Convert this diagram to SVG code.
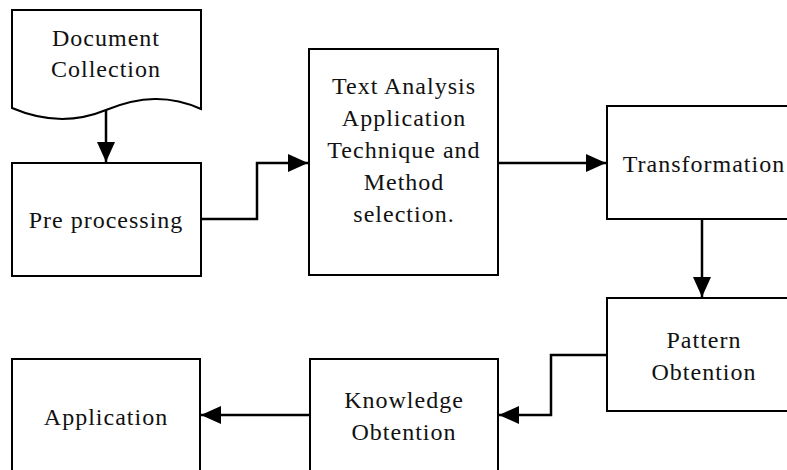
<svg xmlns="http://www.w3.org/2000/svg" width="787" height="470" viewBox="0 0 787 470">
<style>
.box{fill:#fff;stroke:#000;stroke-width:2}
.lbl{font-family:"Liberation Serif","Times New Roman",serif;font-size:24px;letter-spacing:1px;text-anchor:middle;fill:#111}
.conn{fill:none;stroke:#000;stroke-width:2.5}
</style>
<defs>
<marker id="arr" markerUnits="userSpaceOnUse" markerWidth="20" markerHeight="18" refX="20" refY="9" orient="auto">
<path d="M0,0 L20,9 L0,18 Z" fill="#000"/>
</marker>
</defs>
<rect width="787" height="470" fill="#fff"/>
<g id="connectors">
<path class="conn" d="M106,110 V162" marker-end="url(#arr)"/>
<path class="conn" d="M201,219 H257 V163 H308" marker-end="url(#arr)"/>
<path class="conn" d="M498,163 H606" marker-end="url(#arr)"/>
<path class="conn" d="M702,219 V297" marker-end="url(#arr)"/>
<path class="conn" d="M607,355 H551 V415 H499" marker-end="url(#arr)"/>
<path class="conn" d="M310,415 H201" marker-end="url(#arr)"/>
</g>
<g id="doc">
<path class="box" d="M12,10 H201 V109 C170,95 140,96 106,110 C72,124 40,120 12,108 Z"/>
<text class="lbl" x="106" y="46">Document</text>
<text class="lbl" x="106" y="77">Collection</text>
</g>
<g id="pre">
<rect class="box" x="12" y="163" width="189" height="113"/>
<text class="lbl" x="106" y="228">Pre processing</text>
</g>
<g id="text">
<rect class="box" x="309" y="49" width="189" height="226"/>
<text class="lbl" x="404" y="94">Text Analysis</text>
<text class="lbl" x="404" y="126">Application</text>
<text class="lbl" x="404" y="158">Technique and</text>
<text class="lbl" x="404" y="190">Method</text>
<text class="lbl" x="404" y="222">selection.</text>
</g>
<g id="trans">
<rect class="box" x="607" y="106" width="200" height="113"/>
<text class="lbl" x="704" y="172">Transformation</text>
</g>
<g id="pattern">
<rect class="box" x="607" y="298" width="200" height="113"/>
<text class="lbl" x="704" y="348">Pattern</text>
<text class="lbl" x="704" y="380">Obtention</text>
</g>
<g id="knowledge">
<rect class="box" x="310" y="359" width="188" height="130"/>
<text class="lbl" x="404" y="408">Knowledge</text>
<text class="lbl" x="404" y="440">Obtention</text>
</g>
<g id="app">
<rect class="box" x="12" y="359" width="188" height="130"/>
<text class="lbl" x="106" y="425">Application</text>
</g>
</svg>
